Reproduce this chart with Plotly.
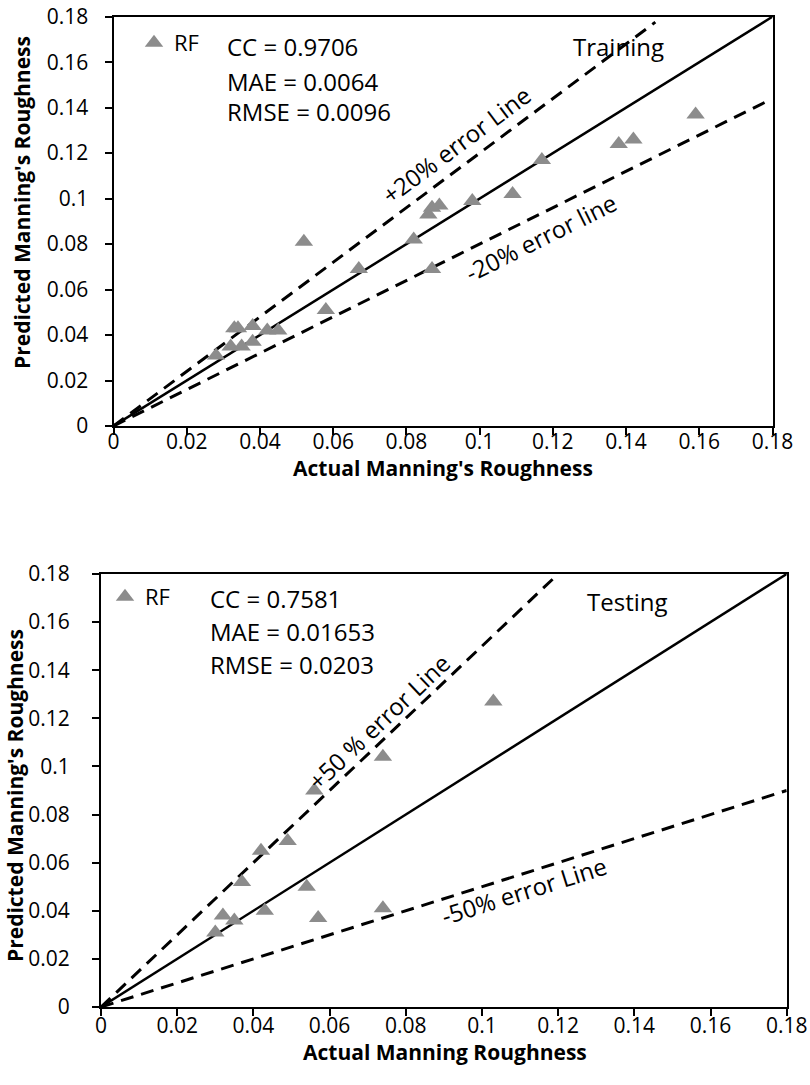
import plotly.graph_objects as go

# ---- Training set (RF) ----
train_actual = [0.028, 0.033, 0.034, 0.032, 0.035, 0.038, 0.038, 0.042, 0.045,
                0.052, 0.058, 0.067, 0.082, 0.086, 0.087, 0.089, 0.087, 0.098,
                0.109, 0.117, 0.138, 0.142, 0.159]
train_pred = [0.031, 0.043, 0.043, 0.035, 0.035, 0.044, 0.037, 0.042, 0.042,
              0.081, 0.051, 0.069, 0.082, 0.093, 0.096, 0.097, 0.069, 0.099,
              0.102, 0.117, 0.124, 0.126, 0.137]

# ---- Testing set (RF) ----
test_actual = [0.030, 0.032, 0.035, 0.037, 0.042, 0.043, 0.049, 0.054, 0.056,
               0.057, 0.074, 0.074, 0.103]
test_pred = [0.031, 0.038, 0.036, 0.052, 0.065, 0.040, 0.069, 0.050, 0.090,
             0.037, 0.104, 0.041, 0.127]

# reference lines: x end points and slope factors
ideal_x = [0, 0.18]
train_upper_x, train_upper_k = [0, 0.148], 1.2
train_lower_x, train_lower_k = [0, 0.178], 0.8
test_upper_x, test_upper_k = [0, 0.119], 1.5
test_lower_x, test_lower_k = [0, 0.18], 0.5

tick_vals = [0, 0.02, 0.04, 0.06, 0.08, 0.1, 0.12, 0.14, 0.16, 0.18]
tick_text = ["0", "0.02", "0.04", "0.06", "0.08", "0.1", "0.12", "0.14", "0.16", "0.18"]

train_stats = ["CC = 0.9706", "MAE = 0.0064", "RMSE = 0.0096"]
test_stats = ["CC = 0.7581", "MAE = 0.01653", "RMSE = 0.0203"]

FONT = "Open Sans"
W, H = 810, 1085
MARK = "#8c8c8c"

fig = go.Figure()


def add_line(xs, k, xa, ya, dash):
    fig.add_trace(go.Scatter(
        x=xs, y=[k * v for v in xs], mode="lines", xaxis=xa, yaxis=ya,
        line=dict(color="black", width=3 if dash else 2.5,
                  dash="13px,8px" if dash else "solid"),
        showlegend=False, hoverinfo="skip"))


# training panel
add_line(train_upper_x, train_upper_k, "x", "y", True)
add_line(train_lower_x, train_lower_k, "x", "y", True)
add_line(ideal_x, 1.0, "x", "y", False)
fig.add_trace(go.Scatter(
    x=train_actual, y=train_pred, mode="markers", name="RF", xaxis="x", yaxis="y",
    marker=dict(symbol="triangle-up", size=16, color=MARK), legend="legend"))

# testing panel
add_line(test_upper_x, test_upper_k, "x2", "y2", True)
add_line(test_lower_x, test_lower_k, "x2", "y2", True)
add_line(ideal_x, 1.0, "x2", "y2", False)
fig.add_trace(go.Scatter(
    x=test_actual, y=test_pred, mode="markers", name="RF", xaxis="x2", yaxis="y2",
    marker=dict(symbol="triangle-up", size=16, color=MARK), legend="legend2"))

axis_common = dict(
    range=[0, 0.18], tickvals=tick_vals, ticktext=tick_text,
    showline=True, linecolor="black", linewidth=2, mirror=True,
    ticks="outside", ticklen=7, tickwidth=1.5, tickcolor="black",
    showgrid=False, zeroline=False, automargin=False,
    tickfont=dict(family=FONT, size=21, color="black"),
)

fig.update_layout(
    template="none",
    width=W, height=H,
    margin=dict(l=0, r=0, t=0, b=0, autoexpand=False),
    paper_bgcolor="white", plot_bgcolor="white",
    showlegend=True,
    xaxis=dict(axis_common, domain=[113.5 / W, 772.5 / W], anchor="y",
               ticklabelstandoff=-11),
    yaxis=dict(axis_common, domain=[1 - 426 / H, 1 - 16.7 / H], anchor="x",
               ticklabelstandoff=12),
    xaxis2=dict(axis_common, domain=[101 / W, 786.7 / W], anchor="y2",
                ticklabelstandoff=-8),
    yaxis2=dict(axis_common, domain=[1 - 1007 / H, 1 - 574 / H], anchor="x2",
                ticklabelstandoff=18),
    legend=dict(x=134 / W, y=1 - 43 / H, xanchor="left", yanchor="middle",
                bgcolor="rgba(0,0,0,0)", font=dict(family=FONT, size=22, color="black")),
    legend2=dict(x=105 / W, y=1 - 597 / H, xanchor="left", yanchor="middle",
                 bgcolor="rgba(0,0,0,0)", font=dict(family=FONT, size=22, color="black")),
)

ann_font = dict(family=FONT, size=24, color="black")
xtitle_font = dict(family=FONT, size=21, color="black", weight="bold")
ytitle_font = dict(family=FONT, size=21, color="black", weight="bold")
annotations = []


def stat_block(lines, xa, ya, x0, ys):
    for txt, yv in zip(lines, ys):
        annotations.append(dict(text=txt, x=x0, y=yv, xref=xa, yref=ya,
                                xanchor="left", yanchor="middle", showarrow=False,
                                font=ann_font))


def centered(text, x, y, xref, yref, font, angle=0):
    annotations.append(dict(text=text, x=x, y=y, xref=xref, yref=yref,
                            xanchor="center", yanchor="middle", showarrow=False,
                            textangle=angle, font=font))


stat_block(train_stats, "x", "y", 0.0305, [0.167, 0.1514, 0.1382])
stat_block(test_stats, "x2", "y2", 0.0282, [0.1699, 0.156, 0.1422])

centered("Training", 0.138, 0.1668, "x", "y", ann_font)
centered("+20% error Line", 0.0936, 0.124, "x", "y", ann_font, -36.7)
centered("-20% error line", 0.1165, 0.0831, "x", "y", ann_font, -26.4)
centered("Testing", 0.1381, 0.1685, "x2", "y2", ann_font)
centered("+50 % error Line", 0.073, 0.1185, "x2", "y2", ann_font, -43.4)
centered("-50% error Line", 0.111, 0.0486, "x2", "y2", ann_font, -17.5)

# axis titles
centered("Actual Manning's Roughness", 443 / W, 1 - 468 / H, "paper", "paper", xtitle_font)
centered("Actual Manning Roughness", 445 / W, 1 - 1052 / H, "paper", "paper", xtitle_font)
centered("Predicted Manning's Roughness", 22 / W, 1 - 203 / H, "paper", "paper", ytitle_font, -90)
centered("Predicted Manning's Roughness", 15 / W, 1 - 796 / H, "paper", "paper", ytitle_font, -90)

fig.update_layout(annotations=annotations)

fig.write_html("out.html")
